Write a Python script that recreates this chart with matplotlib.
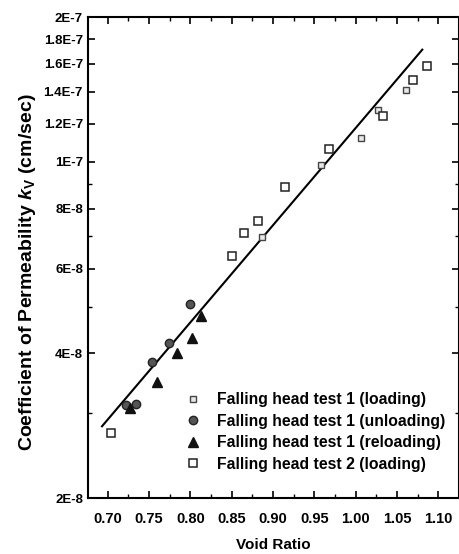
import matplotlib
matplotlib.use("Agg")
import matplotlib.pyplot as plt
import numpy as np
from matplotlib.ticker import FixedLocator, NullFormatter, MultipleLocator

plt.rcParams['font.family'] = ['Liberation Sans', 'DejaVu Sans']
plt.rcParams['font.weight'] = 'bold'
plt.rcParams['mathtext.fontset'] = 'custom'
plt.rcParams['mathtext.bfit'] = 'Liberation Sans:italic:bold'
plt.rcParams['mathtext.bf'] = 'Liberation Sans:bold'

# Falling head test 1 (loading)
e_t1_load = [0.8868, 0.9575, 1.0059, 1.0273, 1.0608]
k_t1_load = [6.97e-8, 9.87e-8, 1.121e-7, 1.284e-7, 1.414e-7]
# Falling head test 1 (unloading)
e_t1_unload = [0.7226, 0.7339, 0.7536, 0.7742, 0.7993]
k_t1_unload = [3.13e-8, 3.14e-8, 3.83e-8, 4.21e-8, 5.07e-8]
# Falling head test 1 (reloading)
e_t1_reload = [0.7266, 0.7593, 0.7839, 0.8025, 0.8130]
k_t1_reload = [3.08e-8, 3.49e-8, 4.00e-8, 4.30e-8, 4.79e-8]
# Falling head test 2 (loading)
e_t2_load = [0.7036, 0.8505, 0.8643, 0.8812, 0.9143, 0.9680, 1.0333, 1.0697, 1.0858]
k_t2_load = [2.73e-8, 6.37e-8, 7.13e-8, 7.55e-8, 8.89e-8, 1.065e-7, 1.244e-7, 1.478e-7, 1.583e-7]
# fitted line
e_fit = [0.6931, 1.0805]
k_fit = [2.82e-8, 1.712e-7]

ytick_vals = [2e-8, 4e-8, 6e-8, 8e-8, 1e-7, 1.2e-7, 1.4e-7, 1.6e-7, 1.8e-7, 2e-7]
ytick_labels = ['2E-8', '4E-8', '6E-8', '8E-8', '1E-7', '1.2E-7', '1.4E-7', '1.6E-7', '1.8E-7', '2E-7']
yminor_vals = [3e-8, 5e-8, 7e-8, 9e-8]

fig = plt.figure(figsize=(4.6, 5.54), dpi=100)
ax = fig.add_axes([0.191, 0.101, 0.807, 0.868])

ax.plot(e_fit, k_fit, color='black', lw=1.5, zorder=2)
ax.plot(e_t1_load, k_t1_load, 's', ms=4.5, mfc='#e8e8e8', mec='#444444', mew=1.0, ls='none',
        label='Falling head test 1 (loading)', zorder=3)
ax.plot(e_t1_unload, k_t1_unload, 'o', ms=6, mfc='#555555', mec='#222222', mew=1.0, ls='none',
        label='Falling head test 1 (unloading)', zorder=3)
ax.plot(e_t1_reload, k_t1_reload, '^', ms=6.5, mfc='#111111', mec='#111111', ls='none',
        label='Falling head test 1 (reloading)', zorder=3)
ax.plot(e_t2_load, k_t2_load, 's', ms=5.5, mfc='white', mec='#222222', mew=1.1, ls='none',
        label='Falling head test 2 (loading)', zorder=3)

ax.set_yscale('log')
ax.set_xlim(0.676, 1.125)
ax.set_ylim(2e-8, 2e-7)
ax.yaxis.set_major_locator(FixedLocator(ytick_vals))
ax.set_yticklabels(ytick_labels)
ax.yaxis.set_minor_locator(FixedLocator(yminor_vals))
ax.yaxis.set_minor_formatter(NullFormatter())
ax.xaxis.set_major_locator(MultipleLocator(0.05))
ax.xaxis.set_minor_locator(MultipleLocator(0.025))
ax.xaxis.set_major_formatter(plt.FuncFormatter(lambda v, p: '%.2f' % v))

ax.tick_params(which='both', direction='in', top=True, right=True)
ax.tick_params(which='major', length=5, width=1.2)
ax.tick_params(which='minor', length=3, width=1.0)
ax.tick_params(axis='y', labelsize=9.5)
ax.tick_params(axis='x', which='major', labelsize=10.5, pad=10)
for s in ax.spines.values():
    s.set_linewidth(1.5)

ax.set_xlabel('Void Ratio', fontsize=11, fontweight='bold', labelpad=9)
ax.set_ylabel(r'Coefficient of Permeability $\mathbfit{k}_{\mathbf{V}}$ (cm/sec)', fontsize=14,
              fontweight='bold')
ax.yaxis.set_label_coords(-0.135, 0.47)

ax.legend(loc='lower left', bbox_to_anchor=(0.22, 0.025), frameon=False, fontsize=11.3,
          handletextpad=0.9, labelspacing=0.42, handlelength=1.2)

fig.savefig('out.png', dpi=100)
